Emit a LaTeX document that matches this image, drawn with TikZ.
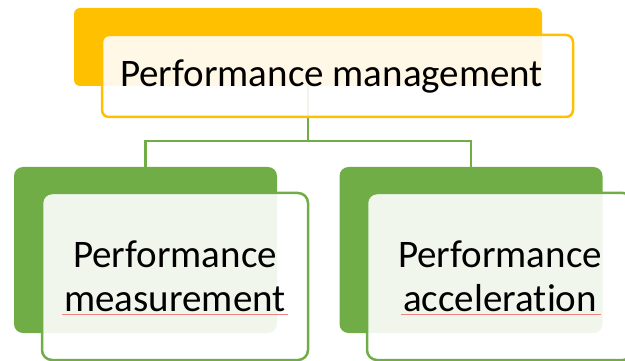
\documentclass[tikz,border=0pt]{standalone}
\usepackage{fontspec}
\setmainfont{Carlito}[Ligatures={NoCommon,NoRequired,NoContextual}, Contextuals=NoAlternate, RawFeature={-liga;-clig;-dlig;-rlig}]
\usepackage{tikz}
\usetikzlibrary{positioning, calc}
\definecolor{myamber}{RGB}{255,192,0}
\definecolor{mygreen}{RGB}{112,173,71}
\definecolor{myred}{RGB}{240,130,130}
\tikzset{
  backbox/.style={rectangle, draw=none, rounded corners=9pt, inner sep=0pt},
  frontbox/.style={rectangle, fill=white, fill opacity=0.9, text opacity=1,
    line width=2.5pt, rounded corners=10pt, inner sep=0pt, align=center,
    font=\fontsize{39}{44}\selectfont},
  link/.style={line width=2.7pt, color=mygreen},
  squiggle/.style={line width=1pt, color=myred}
}

\begin{document}
\begin{tikzpicture}[x=1pt, y=-1pt]
  \useasboundingbox (0,0) rectangle (625,361);

  % Top level
  \node[backbox, fill=myamber, rounded corners=6pt, minimum width=468pt, minimum height=78pt] (topback) at (308,47) {};

  % Second level, back plates
  \node[backbox, fill=mygreen, minimum width=263pt, minimum height=166pt] (leftback) at (145.5,250) {};
  \node[backbox, fill=mygreen, minimum width=263pt, minimum height=166pt] (rightback) at (471,250) {};

  % Connectors
  \coordinate (bus) at (308,141);
  \draw[link] (topback.south) -- (bus) -| (leftback.north);
  \draw[link] (bus) -| (rightback.north);

  % Front boxes
  \node[frontbox, draw=myamber, rounded corners=7pt, minimum width=471pt, minimum height=82pt] (topfront) at (337.5,76) {Performance management\hspace*{12pt}};
  \node[frontbox, draw=mygreen, minimum width=266pt, minimum height=167pt] (leftfront) at (175,276.5) {Performance\\measurement};
  \node[frontbox, draw=mygreen, minimum width=266pt, minimum height=167pt] (rightfront) at (500,276.5) {Performance\\accelera\kern0pt tion};

  % Spelling marks
  \draw[squiggle] (62,314) -- (288,314);
  \draw[squiggle] (401,314) -- (601,314);
\end{tikzpicture}
\end{document}
